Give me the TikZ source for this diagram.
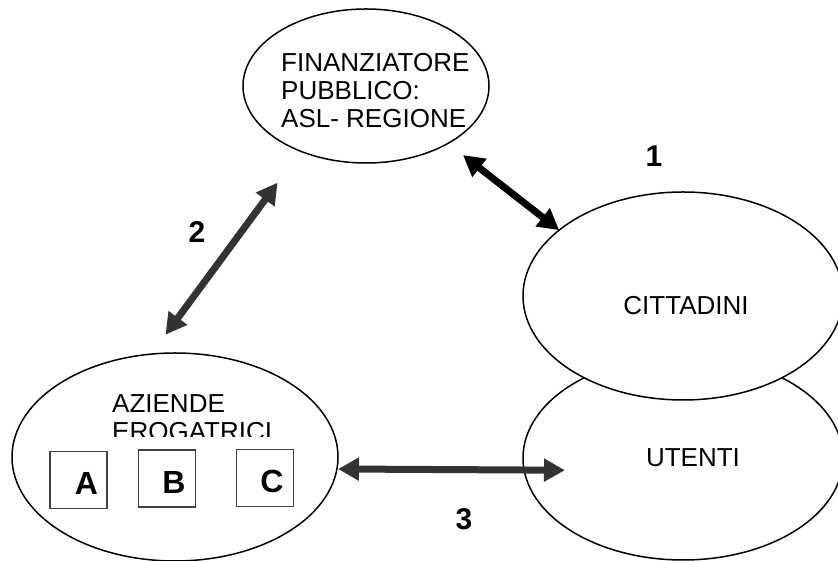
\documentclass[tikz,border=0pt]{standalone}
\usepackage{fontspec}
\setmainfont{Liberation Sans}
\usetikzlibrary{arrows.meta,shapes.geometric}
\definecolor{arrgray}{HTML}{333333}
\tikzset{
  oval/.style={ellipse,draw,line width=1.5pt,fill=white,inner sep=0pt,outer sep=0pt},
  txt/.style={inner sep=0pt,font=\fontsize{26}{28}\selectfont},
  num/.style={inner sep=0pt,anchor=base,font=\fontsize{30}{30}\selectfont\bfseries},
  firm/.style={draw=black!75,line width=1.5pt,minimum size=57pt,inner sep=0pt},
  letter/.style={inner sep=0pt,anchor=base,font=\fontsize{32}{32}\selectfont\bfseries},
  link/.style={line width=7pt,{Triangle[length=21pt,width=22pt]}-{Triangle[length=21pt,width=22pt]}}
}

\begin{document}
\begin{tikzpicture}[x=1pt,y=1pt]
  \useasboundingbox (0,0) rectangle (838,561);
  \node[oval,minimum width=246pt,minimum height=154pt] (fin) at (366,475) {};
  \node[txt,anchor=base west,align=left] (fintxt) at (281,433)
    {FINANZIATORE\\PUBBLICO:\\ASL- REGIONE};
  \node[oval,minimum width=320pt,minimum height=204pt] (ute) at (683,103) {};
  \node[oval,minimum width=320pt,minimum height=208pt] (cit) at (683,265) {};
  \node[txt,anchor=base] (cittxt) at (686,246) {CITTADINI};
  \node[txt,anchor=base] (utetxt) at (693,94) {UTENTI};
  \node[oval,minimum width=326pt,minimum height=208pt] (azi) at (175,104) {};
  \begin{scope}
  \clip (100,124) rectangle (320,200);
  \node[txt,anchor=base west,align=left] (azitxt) at (112,120)
    {AZIENDE\\EROGATRICI};
  \end{scope}
  \node[firm] (boxa) at (78.5,81) {};
  \node[firm] (boxb) at (167,82.5) {};
  \node[firm] (boxc) at (265,83) {};
  \node[letter] (la) at ([xshift=8pt,yshift=-15pt]boxa.center) {A};
  \node[letter] (lb) at ([xshift=7pt,yshift=-15pt]boxb.center) {B};
  \node[letter] (lc) at ([xshift=7pt,yshift=-15pt]boxc.center) {C};
  \draw[link,shorten <=19pt] (fin.-35) -- (cit.152);
  \draw[link,arrgray,shorten <=39pt,shorten >=24pt] (fin.225) -- (azi.103);
  \draw[link,arrgray,shorten >=-42pt] ([yshift=-12pt]azi.east) -- ([yshift=-12pt]ute.west);
  \node[num] (n1) at (654,394) {1};
  \node[num] (n2) at (197,318) {2};
  \node[num] (n3) at (464,31) {3};
\end{tikzpicture}
\end{document}
